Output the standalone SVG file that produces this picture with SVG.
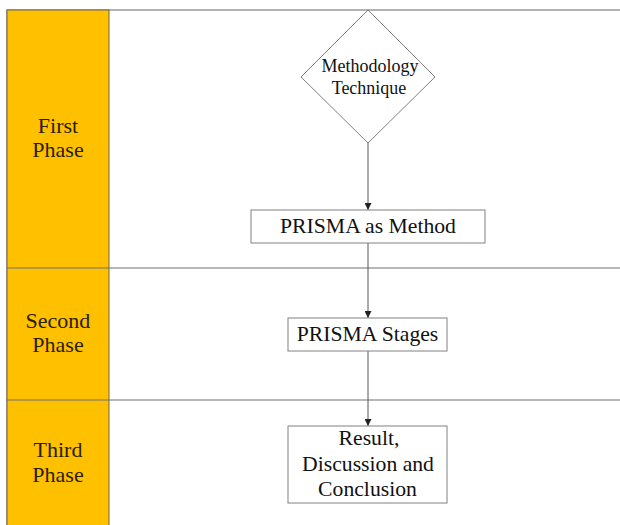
<svg xmlns="http://www.w3.org/2000/svg" width="620" height="525" viewBox="0 0 620 525">
<defs>
<style>
.lane{fill:#FFC000;stroke:#6f6450;stroke-width:1}
.frame{fill:#fff;stroke:#808080;stroke-width:1.2}
.box{fill:#fff;stroke:#808080;stroke-width:1}
.t{font-family:'Liberation Serif','DejaVu Serif','Times New Roman',serif;fill:#111;text-anchor:middle}
.lbl{font-size:22px;fill:#2a1e00}
.n{font-size:21.7px}
.d{font-size:18px}
.conn{stroke:#555;stroke-width:1;fill:none}
</style>
<marker id="ah" viewBox="0 0 8 8" refX="8" refY="4" markerWidth="7" markerHeight="7" orient="auto" markerUnits="userSpaceOnUse">
<path d="M0,0 L8,4 L0,8 z" fill="#222"/>
</marker>
</defs>
<rect width="620" height="525" fill="#fff"/>
<g id="lanes">
<rect class="frame" x="7" y="10" width="620" height="530"/>
<rect class="lane" x="7" y="10" width="102" height="530"/>
<line x1="7" y1="268" x2="620" y2="268" stroke="#707070" stroke-width="1.2"/>
<line x1="7" y1="400" x2="620" y2="400" stroke="#707070" stroke-width="1.2"/>
<text class="t lbl" x="58" y="133">First</text>
<text class="t lbl" x="58" y="157">Phase</text>
<text class="t lbl" x="58" y="328">Second</text>
<text class="t lbl" x="58" y="352">Phase</text>
<text class="t lbl" x="58" y="457">Third</text>
<text class="t lbl" x="58" y="482">Phase</text>
</g>
<g id="connectors">
<line class="conn" x1="368" y1="143" x2="368" y2="210" marker-end="url(#ah)"/>
<line class="conn" x1="368" y1="243" x2="368" y2="318" marker-end="url(#ah)"/>
<line class="conn" x1="368" y1="351" x2="368" y2="426" marker-end="url(#ah)"/>
</g>
<g id="methodology">
<polygon class="box" points="368,10 435,77 368,143 301,77"/>
<text class="t d" x="370" y="72">Methodology</text>
<text class="t d" x="369" y="94">Technique</text>
</g>
<g id="prisma-method">
<rect class="box" x="251" y="210" width="234" height="33"/>
<text class="t n" x="368" y="233">PRISMA as Method</text>
</g>
<g id="prisma-stages">
<rect class="box" x="288" y="318" width="159" height="33"/>
<text class="t n" x="367.5" y="341">PRISMA Stages</text>
</g>
<g id="result">
<rect class="box" x="288" y="426" width="159" height="77"/>
<text class="t n" x="369" y="445">Result,</text>
<text class="t n" x="368" y="471">Discussion and</text>
<text class="t n" x="367.5" y="496">Conclusion</text>
</g>
</svg>
